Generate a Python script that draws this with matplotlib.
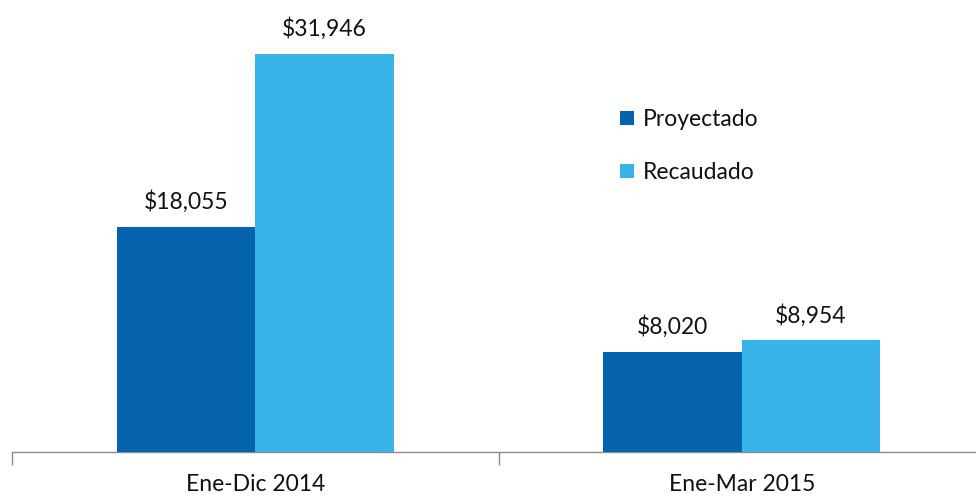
import matplotlib
matplotlib.use("Agg")
import matplotlib.pyplot as plt
import numpy as np

categories = ["Ene-Dic 2014", "Ene-Mar 2015"]
series_names = ["Proyectado", "Recaudado"]
proyectado = [18055, 8020]
recaudado = [31946, 8954]
colors = ["#0563AD", "#39B4EB"]

plt.rcParams['font.family'] = ['Lato', 'DejaVu Sans']
FS = 16.5
TXT = "#111111"

fig = plt.figure(figsize=(9.76, 4.97), dpi=100)
W, H = 976, 497
ax = fig.add_axes([12 / W, (H - 452) / H, 973 / W, 452 / H])

x = np.arange(len(categories))
bw = 0.285
for vals, off, col, name in [(proyectado, -bw / 2, colors[0], series_names[0]),
                             (recaudado, bw / 2, colors[1], series_names[1])]:
    bars = ax.bar(x + off, vals, width=bw, color=col, label=name, zorder=3)
    for b, v in zip(bars, vals):
        ax.annotate(f"${v:,}", (b.get_x() + b.get_width() / 2, v),
                    xytext=(0, 10), textcoords="offset points",
                    ha="center", va="bottom", fontsize=FS, color=TXT)

ax.set_xlim(-0.5, 1.5)
ax.set_ylim(0, 36280)
ax.set_yticks([])
for s in ["top", "right", "left"]:
    ax.spines[s].set_visible(False)
ax.spines["bottom"].set_color("#8c8c8c")
ax.spines["bottom"].set_linewidth(1.0)
ax.set_xticks([-0.5, 0.5, 1.5], minor=False)
ax.set_xticklabels(["", "", ""])
ax.tick_params(axis="x", which="major", length=9, color="#8c8c8c", width=1.0)
ax.set_xticks(x, minor=True)
ax.set_xticklabels(categories, minor=True, fontsize=FS, color=TXT)
ax.tick_params(axis="x", which="minor", length=0, pad=16)

leg = ax.legend(loc="upper left", bbox_to_anchor=(599 / 973, (452 - 100) / 452),
                frameon=False, fontsize=FS, handlelength=0.6, handleheight=0.6,
                handletextpad=0.4, labelspacing=1.39, borderaxespad=0)
for t in leg.get_texts():
    t.set_color(TXT)

fig.savefig("out.png", dpi=100)
